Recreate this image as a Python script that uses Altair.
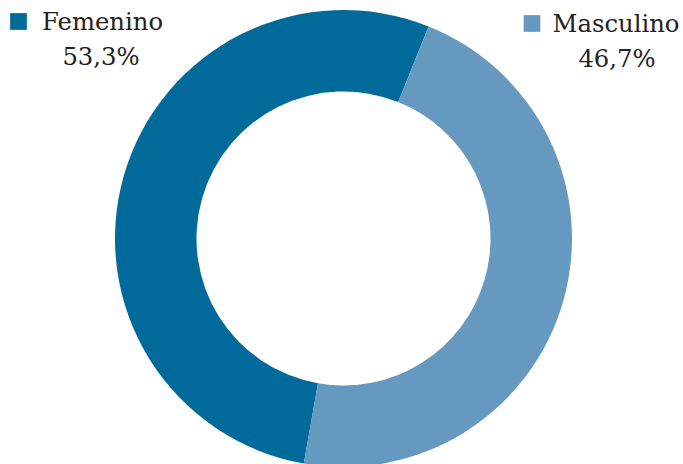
import altair as alt
import pandas as pd

categories = ["Femenino", "Masculino"]
values = [53.3, 46.7]
pct_labels = ["53,3%", "46,7%"]
colors = ["#006b9b", "#6699c0"]

df = pd.DataFrame({"cat": categories, "val": values, "pct": pct_labels})

START = 3.316  # radians, where the first slice begins (clockwise from 12 o'clock)

arc = alt.Chart(df).mark_arc(outerRadius=228.5, innerRadius=147, stroke=None).encode(
    theta=alt.Theta("val:Q", stack=True, scale=alt.Scale(range=[START, START + 6.283185])),
    color=alt.Color("cat:N", scale=alt.Scale(domain=categories, range=colors), legend=None),
    order=alt.Order("cat:N", sort="ascending"),
    x=alt.value(343.5),
    y=alt.value(238.5),
)

# legend placement (style only)
sq_pos = [(18.5, 21.5), (532, 23.5)]
name_pos = [(102.5, 29.5), (616, 31.5)]
pct_pos = [(101, 65), (617, 66.5)]

layers = [arc]
for i, c in enumerate(categories):
    base = alt.Chart(df).transform_filter(alt.datum.cat == c)
    layers.append(base.mark_square(size=280, opacity=1).encode(
        x=alt.value(sq_pos[i][0]), y=alt.value(sq_pos[i][1]),
        color=alt.Color("cat:N", scale=alt.Scale(domain=categories, range=colors), legend=None),
    ))
    layers.append(base.mark_text(font="DejaVu Serif", fontSize=24.3, align="center",
                                 baseline="alphabetic", color="#222222").encode(
        x=alt.value(name_pos[i][0]), y=alt.value(name_pos[i][1]), text="cat:N"))
    layers.append(base.mark_text(font="DejaVu Serif", fontSize=24.3, align="center",
                                 baseline="alphabetic", color="#222222").encode(
        x=alt.value(pct_pos[i][0]), y=alt.value(pct_pos[i][1]), text="pct:N"))

chart = alt.layer(*layers).properties(
    width=683, height=464, autosize=alt.AutoSizeParams(type="none"), padding=0
).configure_view(stroke=None)

chart.save("out.html", embed_options={"renderer": "svg", "actions": False})
